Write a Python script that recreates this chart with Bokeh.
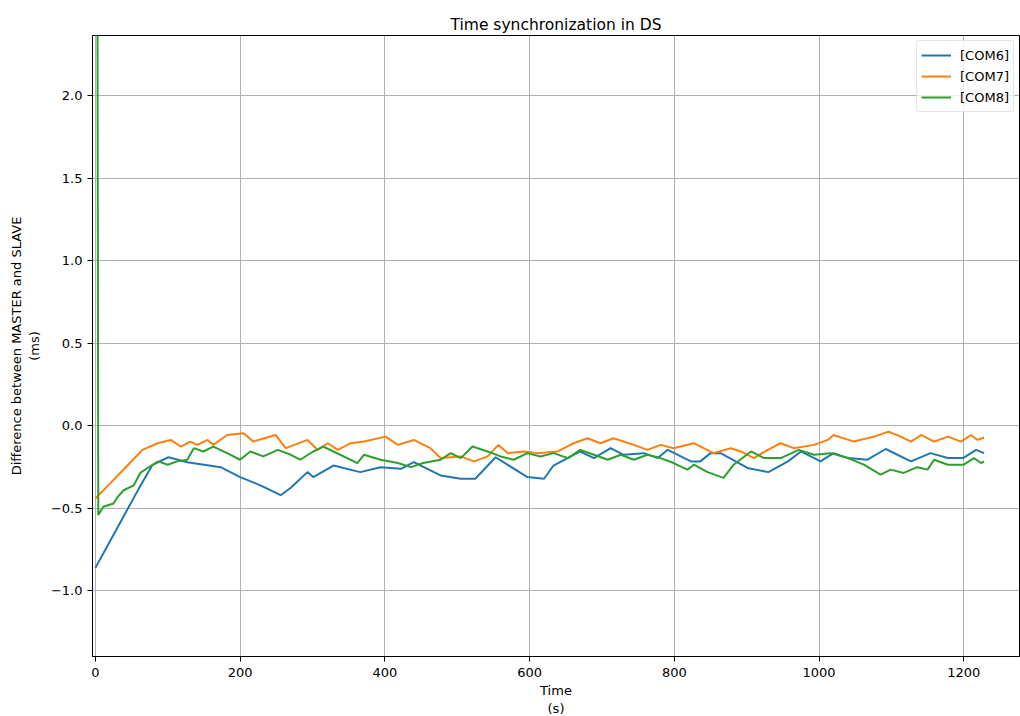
from bokeh.plotting import figure
from bokeh.models import Range1d, ColumnDataSource, Legend, LegendItem, FixedTicker, CustomJSTickFormatter
from bokeh.embed import file_html
from bokeh.resources import INLINE

# ---- data ----
com6_t = [0, 20, 40, 60, 79, 101, 127, 173, 200, 228, 256, 270, 293, 301, 329, 366, 394, 422, 440,
          477, 505, 525, 553, 597, 620, 633, 670, 689, 712, 730, 758, 777, 791, 823, 836, 850, 864,
          901, 930, 957, 975, 1002, 1020, 1040, 1067, 1092, 1127, 1154, 1178, 1199, 1217, 1228]
com6_v = [-0.86, -0.70, -0.54, -0.38, -0.236, -0.19, -0.22, -0.25, -0.31, -0.36, -0.42, -0.375, -0.28,
          -0.31, -0.24, -0.28, -0.25, -0.26, -0.22, -0.30, -0.32, -0.32, -0.19, -0.31, -0.32, -0.24,
          -0.155, -0.195, -0.135, -0.175, -0.165, -0.195, -0.145, -0.215, -0.215, -0.165, -0.165,
          -0.255, -0.28, -0.215, -0.155, -0.215, -0.165, -0.195, -0.205, -0.14, -0.215, -0.165,
          -0.195, -0.195, -0.145, -0.165]

com7_t = [0, 20, 40, 65, 86, 104, 118, 131, 141, 155, 163, 182, 205, 218, 249, 263, 293, 307, 321,
          335, 353, 371, 401, 418, 440, 463, 477, 505, 523, 542, 557, 570, 592, 611, 639, 661, 680,
          698, 716, 744, 763, 781, 799, 827, 854, 878, 892, 910, 929, 947, 965, 993, 1012, 1020,
          1048, 1076, 1096, 1113, 1127, 1141, 1159, 1178, 1196, 1210, 1219, 1228]
com7_v = [-0.44, -0.35, -0.26, -0.145, -0.105, -0.085, -0.125, -0.095, -0.115, -0.085, -0.115,
          -0.055, -0.045, -0.095, -0.055, -0.135, -0.085, -0.145, -0.105, -0.145, -0.105, -0.095,
          -0.065, -0.115, -0.085, -0.135, -0.195, -0.185, -0.215, -0.185, -0.115, -0.165, -0.155,
          -0.165, -0.155, -0.105, -0.075, -0.105, -0.075, -0.115, -0.145, -0.115, -0.135, -0.105,
          -0.165, -0.135, -0.155, -0.195, -0.145, -0.105, -0.135, -0.115, -0.085, -0.055, -0.095,
          -0.065, -0.035, -0.065, -0.095, -0.055, -0.095, -0.065, -0.095, -0.055, -0.085, -0.07]

com8_t = [2.5, 4, 11, 25, 30, 39, 53, 62, 72, 87, 100, 113, 127, 136, 149, 163, 182, 200, 214, 232,
          252, 270, 283, 301, 315, 329, 348, 362, 371, 394, 418, 436, 453, 477, 491, 505, 521, 542,
          560, 578, 597, 615, 633, 653, 670, 689, 708, 726, 744, 763, 781, 799, 818, 827, 846, 868,
          882, 906, 924, 947, 972, 993, 1016, 1040, 1062, 1085, 1099, 1117, 1136, 1150, 1159, 1178,
          1200, 1214, 1224, 1228]
com8_v = [3.5, -0.54, -0.49, -0.47, -0.435, -0.39, -0.36, -0.285, -0.255, -0.215, -0.235, -0.215,
          -0.205, -0.135, -0.155, -0.125, -0.165, -0.205, -0.155, -0.185, -0.145, -0.175, -0.205,
          -0.155, -0.125, -0.155, -0.195, -0.225, -0.175, -0.205, -0.225, -0.25, -0.225, -0.205,
          -0.165, -0.195, -0.125, -0.155, -0.185, -0.205, -0.165, -0.185, -0.165, -0.195, -0.145,
          -0.175, -0.205, -0.175, -0.205, -0.175, -0.195, -0.225, -0.265, -0.235, -0.28, -0.315,
          -0.235, -0.155, -0.195, -0.195, -0.145, -0.175, -0.165, -0.195, -0.235, -0.295, -0.265,
          -0.285, -0.25, -0.265, -0.205, -0.235, -0.235, -0.195, -0.225, -0.215]

series_names = ["[COM6]", "[COM7]", "[COM8]"]
colors = ["#1f77b4", "#ff7f0e", "#2ca02c"]
x_ticks = [0, 200, 400, 600, 800, 1000, 1200]
y_ticks = [-1.0, -0.5, 0.0, 0.5, 1.0, 1.5, 2.0]

FONT = "DejaVu Sans"

p = figure(frame_width=927, frame_height=621, output_backend="svg", toolbar_location=None,
           x_range=Range1d(-4, 1277), y_range=Range1d(-1.397, 2.365),
           title="Time synchronization in DS")
p.min_border_left = 92
p.min_border_right = 1
p.min_border_top = 35
p.min_border_bottom = 60

p.title.align = "center"
p.title.text_font = FONT
p.title.text_font_size = "15.5px"
p.title.text_font_style = "normal"
p.title.text_color = "black"
p.title.standoff = 4

p.outline_line_color = "black"
p.outline_line_width = 1
p.background_fill_color = "white"
p.border_fill_color = "white"

for ax in (p.xaxis, p.yaxis):
    ax.axis_line_color = "black"
    ax.major_tick_line_color = "black"
    ax.major_tick_in = 0
    ax.major_tick_out = 5
    ax.minor_tick_line_color = None
    ax.major_label_text_font = FONT
    ax.major_label_text_font_size = "13px"
    ax.major_label_text_color = "black"
    ax.axis_label_text_font = FONT
    ax.axis_label_text_font_size = "13px"
    ax.axis_label_text_font_style = "normal"
    ax.axis_label_text_color = "black"

p.xaxis.ticker = FixedTicker(ticks=x_ticks)
p.yaxis.ticker = FixedTicker(ticks=y_ticks)
p.yaxis.formatter = CustomJSTickFormatter(code="return tick.toFixed(1).replace('-', '\u2212');")
p.xaxis.axis_label = "Time\n(s)"
p.yaxis.axis_label = "Difference between MASTER and SLAVE\n(ms)"
p.xaxis.axis_label_standoff = 3
p.yaxis.axis_label_standoff = 6
p.xaxis.major_label_standoff = 6
p.yaxis.major_label_standoff = 5

p.grid.grid_line_color = "#b0b0b0"
p.grid.grid_line_width = 1

items = []
for t, v, name, c in zip([com6_t, com7_t, com8_t], [com6_v, com7_v, com8_v], series_names, colors):
    src = ColumnDataSource(dict(t=t, v=v))
    r = p.line("t", "v", source=src, line_color=c, line_width=2)
    items.append(LegendItem(label=name, renderers=[r]))

legend = Legend(items=items, location="top_right")
legend.label_text_font = FONT
legend.label_text_font_size = "13px"
legend.label_text_color = "black"
legend.border_line_color = "#cccccc"
legend.border_line_width = 1
legend.border_radius = 3
legend.background_fill_alpha = 0.8
legend.glyph_width = 30
legend.spacing = 1
legend.padding = 4
legend.margin = 5
legend.label_standoff = 9
p.add_layout(legend)

open("out.html", "w").write(file_html(p, INLINE))
